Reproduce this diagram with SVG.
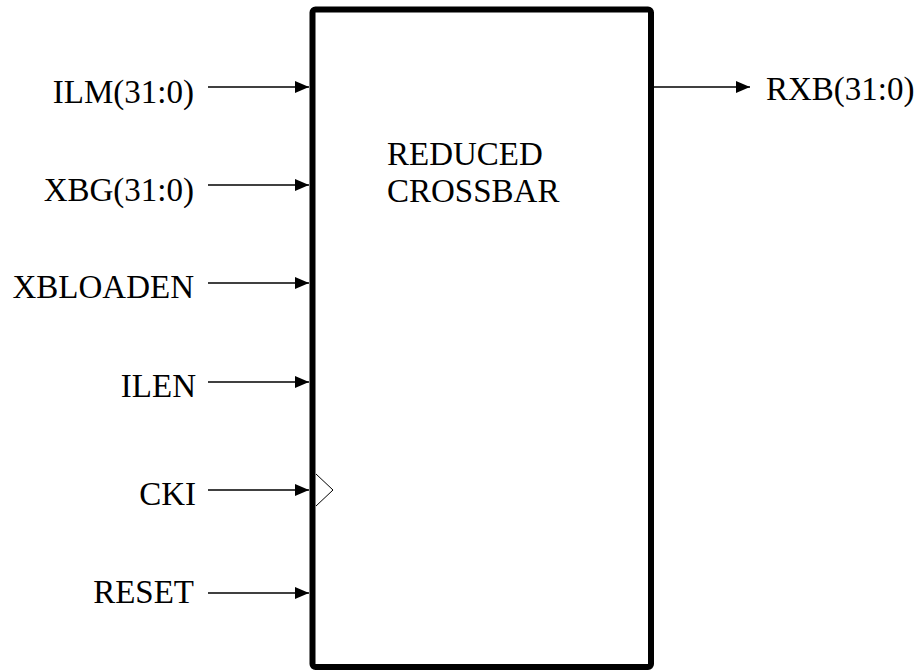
<svg xmlns="http://www.w3.org/2000/svg" width="915" height="670" viewBox="0 0 915 670">
<defs>
<style>
text{font-family:"Liberation Serif","Times New Roman",serif;font-size:33px;fill:#000}
.w{stroke:#000;stroke-width:1.5;fill:none}
.l{text-anchor:end}
</style>
<marker id="a" markerWidth="14" markerHeight="12" refX="14" refY="6" orient="auto" markerUnits="userSpaceOnUse"><path d="M0,0L14,6L0,12Z" fill="#000"/></marker>
</defs>
<rect width="915" height="670" fill="#fff"/>
<g id="block">
<rect x="312.5" y="9.5" width="338.5" height="657.5" rx="3" fill="#fff" stroke="#000" stroke-width="6"/>
<text x="387" y="165">REDUCED</text>
<text x="387" y="202">CROSSBAR</text>
<path d="M316,474L333,490L316,506" fill="none" stroke="#000" stroke-width="1"/>
</g>
<g id="connectors">
<line class="w" x1="208" y1="87" x2="309" y2="87" marker-end="url(#a)"/>
<line class="w" x1="208" y1="185" x2="309" y2="185" marker-end="url(#a)"/>
<line class="w" x1="208" y1="283" x2="309" y2="283" marker-end="url(#a)"/>
<line class="w" x1="208" y1="382" x2="309" y2="382" marker-end="url(#a)"/>
<line class="w" x1="208" y1="490" x2="309" y2="490" marker-end="url(#a)"/>
<line class="w" x1="208" y1="593" x2="309" y2="593" marker-end="url(#a)"/>
<line class="w" x1="654" y1="87" x2="750" y2="87" marker-end="url(#a)"/>
</g>
<g id="labels">
<text class="l" x="194" y="103">ILM(31:0)</text>
<text class="l" x="194" y="201">XBG(31:0)</text>
<text class="l" x="194" y="298">XBLOADEN</text>
<text class="l" x="196" y="397">ILEN</text>
<text class="l" x="196" y="505">CKI</text>
<text class="l" x="194" y="603">RESET</text>
<text x="766" y="100">RXB(31:0)</text>
</g>
</svg>
